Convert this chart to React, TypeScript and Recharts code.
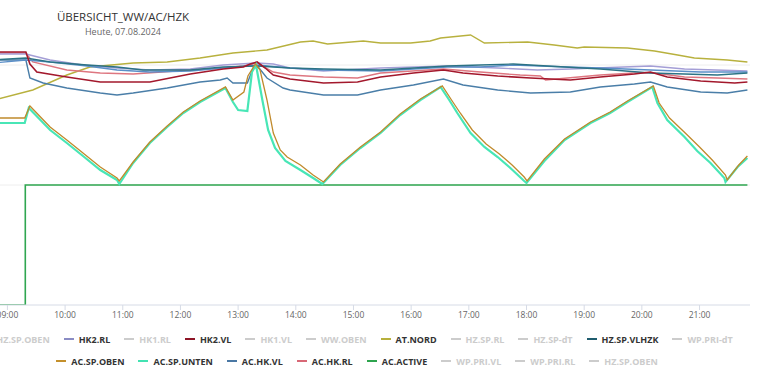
import React from 'react';
import { LineChart, Line, XAxis, YAxis, ReferenceLine } from 'recharts';

// time in decimal hours, value in chart units
const hourTicks = [9, 10, 11, 12, 13, 14, 15, 16, 17, 18, 19, 20, 21];
const gridValues = [30, 60];

const atNord: [number, number][] = [
  [8.75, 51.2], [9.44, 53.75], [10.03, 57.5], [10.43, 59.5], [11.18, 60.5], [11.77, 60.75],
  [12.34, 61.75], [12.91, 63], [13.5, 63.75], [14.08, 65.75], [14.3, 66], [14.55, 65.25],
  [15.17, 66], [15.47, 65.5], [15.99, 65.5], [16.33, 66], [16.51, 66.75], [17.03, 67.5],
  [17.27, 65.5], [18.02, 65.75], [18.48, 65], [18.88, 64.25], [19.0, 64.5], [19.75, 64.25],
  [20.22, 63.5], [20.62, 62.5], [20.91, 61.75], [21.48, 61.25], [21.83, 60.75],
];

const hk2Vl: [number, number][] = [
  [8.75, 63.25], [9.32, 63.25], [9.39, 60.25], [9.51, 58.25], [10.03, 57], [10.61, 55.75],
  [11.47, 55.75], [12.17, 57.75], [12.74, 59], [13.09, 59.5], [13.21, 60.25], [13.33, 60.75],
  [13.47, 59.25], [13.61, 57.5], [13.9, 56.5], [14.48, 55.5], [15.07, 55.75], [15.47, 57],
  [16.04, 58], [16.56, 58.75], [16.9, 58], [17.5, 57.25], [18.07, 56.75], [18.76, 56.25],
  [19.28, 57], [19.87, 57.75], [20.15, 58.25], [20.44, 57], [21.02, 56], [21.61, 55.5], [21.83, 55.75],
];

const acHkRl: [number, number][] = [
  [8.75, 63], [9.32, 63], [9.44, 60.75], [10.03, 58.75], [10.61, 58], [11.18, 57.75],
  [12.17, 58.75], [12.74, 59.25], [13.09, 59.75], [13.33, 60.5], [13.61, 58.25], [13.9, 57.5],
  [14.48, 57], [15.07, 56.75], [15.47, 58], [16.56, 59], [17.2, 58.25], [17.89, 57.5],
  [18.24, 57.25], [18.33, 56.25], [18.71, 56.75], [19.28, 57.5], [19.87, 58], [20.22, 58],
  [20.74, 57], [21.31, 56.75], [21.83, 56.5],
];

const hk2Rl: [number, number][] = [
  [8.75, 62.75], [9.32, 62.75], [9.74, 61.25], [10.31, 60], [10.9, 59.25], [11.47, 58.75],
  [12.17, 59], [12.74, 60], [13.33, 60.5], [13.61, 60.25], [13.9, 59.25], [14.48, 58.5],
  [15.47, 59.25], [16.63, 59.75], [17.5, 59.25], [18.19, 58.75], [18.76, 59], [20.15, 59.75],
  [20.74, 59], [21.83, 58.5],
];

const hzSpVlhzk: [number, number][] = [
  [8.75, 61.25], [9.32, 61.75], [9.74, 60.75], [10.38, 60], [10.9, 59.5], [11.35, 58.75],
  [12.17, 58.75], [12.74, 59.5], [13.33, 59.75], [13.9, 59.25], [14.48, 59], [15.47, 58.75],
  [16.63, 59.75], [17.2, 60], [17.77, 60.25], [18.36, 59.75], [19.28, 59], [20.15, 58],
  [20.74, 57.75], [21.31, 57.5], [21.83, 58],
];

const hzSpVl: [number, number][] = [
  [8.75, 60.5], [9.32, 61.25], [9.74, 60.75], [10.38, 59.75], [10.9, 58.75], [11.47, 58.25],
  [12.17, 58.5], [12.74, 59.25], [13.33, 60], [13.9, 59.25], [14.48, 58.75], [15.47, 58.5],
  [16.63, 59.5], [17.2, 59.5], [17.77, 60], [18.71, 59.5], [19.28, 59.25], [20.15, 58.75],
  [21.02, 58.25], [21.83, 58.25],
];

const acHkVl: [number, number][] = [
  [8.75, 61.25], [9.32, 61.25], [9.39, 56.75], [9.62, 55.5], [10.03, 54.25], [10.61, 53],
  [10.9, 52.5], [11.18, 53], [11.77, 54.25], [12.34, 55.75], [12.69, 56.25], [12.81, 56.75],
  [12.91, 55.5], [13.16, 55.5], [13.26, 59.25], [13.35, 59.5], [13.5, 56.75], [13.78, 54.25],
  [13.9, 53.75], [14.48, 52.5], [15.07, 52.5], [15.47, 53.75], [16.04, 55], [16.56, 56.5],
  [16.9, 55], [17.5, 53.75], [18.07, 53], [18.76, 53.25], [19.28, 54.5], [19.87, 55.25],
  [20.15, 55.75], [20.44, 54.5], [21.02, 53.25], [21.48, 53], [21.83, 53.75],
];

const acSpUnten: [number, number][] = [
  [8.75, 45.5], [9.3, 45.5], [9.37, 49.25], [9.74, 43.75], [10.03, 40.5], [10.31, 37.25],
  [10.61, 33.75], [10.9, 31.25], [10.94, 30.25], [11.18, 35.5], [11.47, 40.5], [11.77, 44.5],
  [12.05, 48], [12.34, 50.75], [12.78, 54.25], [12.91, 50.75], [13.0, 48.75], [13.16, 48.5],
  [13.24, 58.25], [13.31, 60], [13.42, 51.25], [13.52, 43.75], [13.64, 39.25], [13.82, 36],
  [14.08, 33.75], [14.3, 31.75], [14.46, 30.25], [14.77, 35], [15.12, 39.25], [15.47, 43],
  [15.81, 47.5], [16.16, 51.25], [16.51, 54.5], [16.66, 51.25], [16.8, 48], [17.03, 43],
  [17.27, 39.5], [17.5, 37], [17.72, 34.25], [17.96, 31], [18.0, 30.5], [18.31, 36],
  [18.66, 41.25], [19.11, 45.5], [19.45, 48], [19.75, 50.75], [20.18, 54.5], [20.27, 50.5],
  [20.44, 46.25], [20.74, 42], [20.96, 38.5], [21.19, 35.5], [21.43, 31.75], [21.45, 30.75],
  [21.66, 34.5], [21.83, 36.75],
];

const acSpOben: [number, number][] = [
  [8.75, 46.75], [9.3, 46.75], [9.39, 49.75], [9.74, 44.5], [10.03, 41.25], [10.31, 38],
  [10.61, 34.5], [10.9, 31.75], [10.94, 31], [11.18, 35.75], [11.47, 40.75], [11.77, 44.75],
  [12.05, 48.25], [12.34, 51], [12.78, 54.5], [12.91, 51.25], [13.1, 53.25], [13.17, 57.25],
  [13.3, 60.25], [13.38, 58.75], [13.5, 51.25], [13.61, 43], [13.73, 38.75], [13.85, 37],
  [14.08, 35], [14.3, 32.5], [14.48, 30.75], [14.77, 35.25], [15.12, 39.5], [15.47, 43.25],
  [15.81, 47.75], [16.16, 51.5], [16.54, 54.75], [16.7, 51.25], [16.85, 48], [17.06, 43.75],
  [17.3, 40.25], [17.53, 37.75], [17.75, 35], [17.96, 32], [18.01, 31], [18.31, 36.5],
  [18.66, 41.5], [19.11, 45.75], [19.45, 48.25], [19.75, 51], [20.2, 54.75], [20.3, 50.5],
  [20.48, 46.75], [20.77, 42.75], [21.0, 39.5], [21.22, 36.25], [21.45, 32.5], [21.48, 31.25],
  [21.68, 35], [21.83, 37.25],
];

const acActive: [number, number][] = [
  [8.75, 0], [9.31, 1], [21.83, 1],
];

const legendRow1 = [
  { name: 'HZ.SP.OBEN', color: '#cccccc', on: false },
  { name: 'HK2.RL', color: '#8a8cc4', on: true },
  { name: 'HK1.RL', color: '#cccccc', on: false },
  { name: 'HK2.VL', color: '#8e1526', on: true },
  { name: 'HK1.VL', color: '#cccccc', on: false },
  { name: 'WW.OBEN', color: '#cccccc', on: false },
  { name: 'AT.NORD', color: '#b7b03c', on: true },
  { name: 'HZ.SP.RL', color: '#cccccc', on: false },
  { name: 'HZ.SP-dT', color: '#cccccc', on: false },
  { name: 'HZ.SP.VLHZK', color: '#1f5c6e', on: true },
  { name: 'WP.PRI-dT', color: '#cccccc', on: false },
];
const legendRow2 = [
  { name: 'AC.SP.OBEN', color: '#c4902c', on: true },
  { name: 'AC.SP.UNTEN', color: '#43e2b2', on: true },
  { name: 'AC.HK.VL', color: '#4a78a4', on: true },
  { name: 'AC.HK.RL', color: '#d86876', on: true },
  { name: 'AC.ACTIVE', color: '#2ea44e', on: true },
  { name: 'WP.PRI.VL', color: '#cccccc', on: false },
  { name: 'WP.PRI.RL', color: '#cccccc', on: false },
  { name: 'HZ.SP.OBEN', color: '#cccccc', on: false },
];

const pts = (a: [number, number][]) => a.map(([t, v]) => ({ t, v }));
const fmtHour = (h: number) => `${String(h).padStart(2, '0')}:00`;

const FONT = '"Open Sans", "DejaVu Sans", sans-serif';

function LegendRow({ items, top }: { items: typeof legendRow1; top: number }) {
  return (
    <div
      style={{
        position: 'absolute', left: -43, width: 800, top, height: 12,
        display: 'flex', justifyContent: 'center', alignItems: 'center',
        fontFamily: FONT, fontSize: 9, fontWeight: 700, whiteSpace: 'nowrap',
      }}
    >
      {items.map((it, i) => (
        <div key={i} style={{ display: 'flex', alignItems: 'center', marginLeft: i === 0 ? 0 : 14 }}>
          <span style={{ display: 'inline-block', width: 10, height: 2, background: it.color, marginRight: 5 }} />
          <span style={{ color: it.on ? '#333333' : '#cccccc' }}>{it.name}</span>
        </div>
      ))}
    </div>
  );
}

export default function App() {
  return (
    <div
      style={{
        position: 'fixed', left: 0, top: 0, width: 757, height: 372,
        overflow: 'hidden', background: '#ffffff', fontFamily: FONT,
      }}
    >
      <div style={{ position: 'absolute', left: 23, width: 200, top: 10, textAlign: 'center', fontSize: 11.5, color: '#333333', lineHeight: '14px' }}>
        ÜBERSICHT_WW/AC/HZK
      </div>
      <div style={{ position: 'absolute', left: 23, width: 200, top: 26, textAlign: 'center', fontSize: 9, color: '#666666', lineHeight: '12px' }}>
        Heute, 07.08.2024
      </div>
      <div style={{ position: 'absolute', left: -7, top: 0 }}>
        <LineChart width={757} height={335} margin={{ top: 25, right: 0, bottom: 0, left: 0 }}>
          <XAxis
            dataKey="t"
            type="number"
            domain={[8.75, 21.875]}
            allowDataOverflow
            ticks={hourTicks}
            tickFormatter={fmtHour}
            height={30}
            tickSize={5}
            tick={{ fontSize: 8.5, fill: '#666666', fontFamily: FONT }}
            axisLine={{ stroke: '#d6dbe6' }}
            tickLine={{ stroke: '#d6dbe6' }}
          />
          <YAxis yAxisId="temp" hide domain={[0, 70]} allowDataOverflow />
          <YAxis yAxisId="bool" hide domain={[0, 7 / 3]} allowDataOverflow />
          {gridValues.map((g) => (
            <ReferenceLine key={g} yAxisId="temp" y={g} stroke="#eeeeee" strokeWidth={1} />
          ))}
          <Line yAxisId="temp" data={pts(atNord)} dataKey="v" name="AT.NORD" stroke="#b8b13e" strokeWidth={1.4} dot={false} isAnimationActive={false} />
          <Line yAxisId="temp" data={pts(acHkVl)} dataKey="v" name="AC.HK.VL" stroke="#4a7ea8" strokeWidth={1.4} dot={false} isAnimationActive={false} />
          <Line yAxisId="temp" data={pts(acHkRl)} dataKey="v" name="AC.HK.RL" stroke="#de7680" strokeWidth={1.4} dot={false} isAnimationActive={false} />
          <Line yAxisId="temp" data={pts(hk2Rl)} dataKey="v" name="HK2.RL" stroke="#a49ed6" strokeWidth={1.4} dot={false} isAnimationActive={false} />
          <Line yAxisId="temp" data={pts(hzSpVl)} dataKey="v" name="HZ.SP.VL" stroke="#5b8fc8" strokeWidth={1.4} dot={false} isAnimationActive={false} />
          <Line yAxisId="temp" data={pts(hzSpVlhzk)} dataKey="v" name="HZ.SP.VLHZK" stroke="#2c7385" strokeWidth={1.4} dot={false} isAnimationActive={false} />
          <Line yAxisId="temp" data={pts(hk2Vl)} dataKey="v" name="HK2.VL" stroke="#a3182c" strokeWidth={1.6} dot={false} isAnimationActive={false} />
          <Line yAxisId="bool" type="stepAfter" data={pts(acActive)} dataKey="v" name="AC.ACTIVE" stroke="#2fa650" strokeWidth={1.6} dot={false} isAnimationActive={false} />
          <Line yAxisId="temp" data={pts(acSpUnten)} dataKey="v" name="AC.SP.UNTEN" stroke="#48e6b6" strokeWidth={2.2} dot={false} isAnimationActive={false} />
          <Line yAxisId="temp" data={pts(acSpOben)} dataKey="v" name="AC.SP.OBEN" stroke="#c08a2c" strokeWidth={1.3} dot={false} isAnimationActive={false} />
        </LineChart>
      </div>
      <LegendRow items={legendRow1} top={333} />
      <LegendRow items={legendRow2} top={355} />
    </div>
  );
}
